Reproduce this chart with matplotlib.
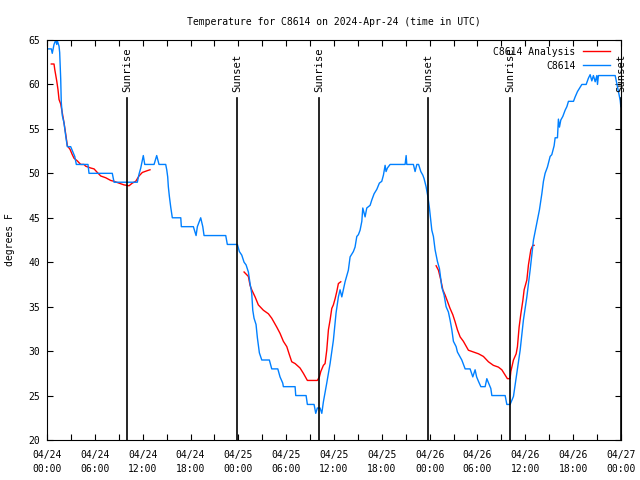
#Temperature for C8614 (observations vs analysis)

#Importing required packages.
import matplotlib
matplotlib.use('Agg')
import matplotlib.pyplot as plt

#Small monospace font, like the gnuplot original.
font = {'family': 'DejaVu Sans Mono',
        'size': 7}
matplotlib.rc('font', **font)

#Observations: hours since 04/24 00:00 UTC and temperature (F).
obs_h = [0.0, 0.54, 0.66, 0.88, 1.09, 1.22, 1.30, 1.51, 1.59, 1.72, 1.79, 1.92, 2.13,
         2.35, 2.55, 2.97, 3.30, 3.48, 3.68, 5.14, 5.27, 8.19, 8.41, 11.33, 11.54,
         11.76, 12.08, 12.26, 13.43, 13.76, 14.05, 14.89, 15.02, 15.14, 15.22, 15.35,
         15.52, 15.72, 16.78, 16.85, 18.36, 18.70, 18.86, 19.28, 19.54, 19.70, 22.42,
         22.62, 23.88,
         24.13, 24.43, 24.72, 24.97, 25.26, 25.47, 25.68, 25.81, 25.97, 26.22, 26.39,
         26.64, 26.94, 27.89, 28.19, 28.95, 29.23, 29.57, 29.65, 31.12, 31.20, 32.50,
         32.66, 33.50, 33.71, 33.91, 34.25, 34.47, 34.67, 35.09, 35.51, 35.92, 36.26,
         36.55, 36.76, 36.98, 37.39, 37.80, 38.02, 38.43, 38.64, 38.86, 39.06, 39.27,
         39.49, 39.61, 39.90, 40.11, 40.53, 40.74, 41.03, 41.37, 41.69, 41.99, 42.20,
         42.41, 42.53, 42.70, 43.04, 44.92, 45.05, 45.13, 45.96, 46.17, 46.39, 46.61,
         46.89, 47.14, 47.30, 47.55, 47.77, 47.97, 48.27, 48.47, 48.68, 48.97, 49.22,
         49.31, 49.52, 49.81, 50.06, 50.35, 50.56, 50.78, 50.98, 51.32, 51.48, 52.03,
         52.45, 53.07, 53.41, 53.70, 53.89, 54.12, 54.42, 54.96, 55.17, 55.39, 55.67,
         55.80, 57.47, 57.68, 58.09, 58.51, 58.93, 59.35, 59.76, 60.19, 60.60, 61.02,
         61.44, 61.77, 62.07, 62.27, 62.48, 62.77, 63.11, 63.32, 63.61, 63.74, 64.03,
         64.15, 64.28, 64.45, 64.70, 64.99, 65.21, 65.41, 66.04, 66.25, 66.54, 66.88,
         67.09, 67.63, 67.91, 68.13, 68.34, 68.54, 68.76, 68.97, 69.05, 69.17, 71.27,
         71.48, 71.68, 71.90, 71.98]
obs_t = [64, 64, 63.5, 64.5, 65, 64.5, 64.9, 64.3, 63.6, 60.6, 58, 56.5, 55.7,
         54.2, 53, 53, 52.3, 51.9, 51, 51, 50, 50, 49, 49, 49.9,
         50.6, 52, 51, 51, 52, 51, 51, 50.4, 49.6, 48.5, 47.4,
         46.2, 45, 45, 44, 44, 43, 44, 45, 44, 43, 43,
         42, 42,
         41.2, 40.8, 40, 39.7, 38.9, 37.6, 36.5, 34.6, 33.7, 33, 31.5,
         29.8, 29, 29, 28, 28, 27.1, 26.4, 26, 26, 25, 25,
         24, 24, 23, 23.6, 23.6, 23, 24.3, 26.4, 28.6, 31.2, 34.3,
         36.1, 36.9, 36.1, 37.8, 39.1, 40.6, 41.2, 41.7, 42.9, 43.1, 43.6,
         44.6, 46.1, 45.1, 46.1, 46.4, 47, 47.7, 48.2, 48.9, 49.1, 49.8,
         50.9, 50.2, 50.6, 51, 51, 52, 51, 51, 50.2, 51, 51,
         50.2, 49.8, 49.4, 48.5, 47.4, 46.1, 43.6, 42.9, 41.4, 40.1, 39.3,
         38.7, 37.2, 36.3, 35, 34.4, 33.5, 32.4, 31.1, 30.5, 29.9, 29,
         28, 28, 27.1, 27.9, 27.1, 26.6, 26, 26, 26.9, 26.4, 25.8,
         25, 25, 24, 24, 24.9, 27.5, 30.1, 33.5, 36.1, 39.1, 42.5,
         44.4, 45.9, 47.7, 49.1, 50, 50.7, 51.9, 52.1, 53.1, 54, 54,
         56.1, 55.2, 56, 56.4, 57.1, 57.5, 58.1, 58.1, 58.6, 59.2, 59.7,
         60, 60, 60.7, 61.1, 60.4, 61, 60.3, 61, 60, 61, 61,
         60.1, 59.2, 58.2, 57.5]

#Analysis: three separate runs.
ana1_h = [0.54, 0.88, 0.97, 1.22, 1.38, 1.51, 1.72, 1.92, 2.13, 2.35, 2.55, 2.89, 3.17,
          3.39, 3.80, 4.23, 4.64, 4.86, 5.48, 5.90, 6.31, 6.74, 7.37, 7.99, 8.41, 9.03,
          9.66, 10.29, 10.70, 11.13, 11.54, 11.96, 12.58, 12.92]
ana1_t = [62.3, 62.3, 61.7, 60.4, 59.4, 58.3, 57.8, 56.8, 55.7, 54.4, 53.1, 52.7, 52.1,
          51.7, 51.4, 51, 51, 50.8, 50.6, 50.5, 50.1, 49.7, 49.5, 49.2, 49.1, 48.9,
          48.7, 48.6, 48.9, 49.1, 49.7, 50.1, 50.3, 50.4]
ana2_h = [24.72, 25.26, 25.47, 25.68, 26.10, 26.51, 27.14, 27.77, 28.19, 28.82, 29.23,
          29.65, 30.08, 30.40, 30.70, 31.12, 31.74, 32.16, 32.66, 33.41, 33.91, 34.17,
          34.34, 34.67, 34.88, 35.09, 35.30, 35.51, 35.72, 35.92, 36.14, 36.35, 36.55,
          36.85]
ana2_t = [38.9, 38.4, 37.4, 36.9, 36.1, 35.2, 34.6, 34.2, 33.7, 32.7, 32, 31.1, 30.5,
          29.6, 28.8, 28.6, 28.1, 27.5, 26.7, 26.7, 26.7, 27.1, 27.7, 28.4, 28.6, 30.1,
          32.4, 33.5, 34.8, 35.2, 35.9, 36.7, 37.6, 37.8]
ana3_h = [48.81, 49.10, 49.40, 49.65, 49.94, 50.23, 50.56, 50.90, 51.19, 51.48, 51.82,
          52.23, 52.86, 53.49, 54.12, 54.74, 55.37, 55.99, 56.62, 57.05, 57.47, 57.75,
          58.09, 58.18, 58.51, 58.85, 59.01, 59.22, 59.44, 59.69, 59.85, 60.19, 60.39,
          60.69, 60.94, 61.10]
ana3_t = [39.6, 39.1, 38, 36.9, 36.3, 35.6, 34.8, 34.1, 33.3, 32.4, 31.6, 31.1, 30.1,
          29.9, 29.7, 29.4, 28.8, 28.4, 28.2, 27.9, 27.3, 26.9, 26.9, 27.7, 29, 29.7,
          30.5, 32.7, 34.2, 35.7, 36.9, 38, 39.7, 41.4, 41.9, 41.9]

#Sunrise / sunset markers (hours since 04/24 00:00).
sun_h = [10.04, 23.84, 34.13, 47.80, 58.09, 72.0]
sun_labels = ['Sunrise', 'Sunset', 'Sunrise', 'Sunset', 'Sunrise', 'Sunset']

#Tick labels every 6 hours.
tick_h = list(range(0, 73, 6))
tick_labels = ['04/24\n00:00', '04/24\n06:00', '04/24\n12:00', '04/24\n18:00',
               '04/25\n00:00', '04/25\n06:00', '04/25\n12:00', '04/25\n18:00',
               '04/26\n00:00', '04/26\n06:00', '04/26\n12:00', '04/26\n18:00',
               '04/27\n00:00']

#Making the plot.
fig = plt.figure(figsize=(6.4, 4.8), dpi=100)
ax = fig.add_axes([47/640, 40/480, 574/640, 400/480])

ax.plot(ana1_h, ana1_t, color='#ff0000', lw=1, label='C8614 Analysis')
ax.plot(ana2_h, ana2_t, color='#ff0000', lw=1)
ax.plot(ana3_h, ana3_t, color='#ff0000', lw=1)
ax.plot(obs_h, obs_t, color='#0080ff', lw=1, label='C8614')

for h, lab in zip(sun_h, sun_labels):
    ax.plot([h, h], [20, 58.5], color='black', lw=1.2)
    ax.text(h, 59.1, lab, rotation=90, ha='center', va='bottom', fontsize=7.6)

ax.set_xlim(0, 72)
ax.set_ylim(20, 65)
ax.set_xticks(tick_h)
ax.set_xticks(range(3, 72, 6), minor=True)
ax.set_xticklabels(tick_labels, linespacing=1.5)
ax.set_yticks(range(20, 66, 5))
ax.tick_params(which='both', direction='in', top=True, right=True, length=4, width=0.8)
ax.tick_params(axis='x', pad=7.5)
ax.tick_params(axis='y', pad=5)

#Titling and labeling.
ax.set_title('Temperature for C8614 on 2024-Apr-24 (time in UTC)', fontsize=7, pad=11)
fig.text(10/640, 0.5, 'degrees F', rotation=90, ha='center', va='center')

ax.legend(loc='upper right', bbox_to_anchor=(0.992, 1.0), frameon=False,
          markerfirst=False, handlelength=2.7, handletextpad=0.8,
          borderaxespad=0.3, labelspacing=0.4)

#Figure saved.
plt.savefig('out.png', dpi=100)
